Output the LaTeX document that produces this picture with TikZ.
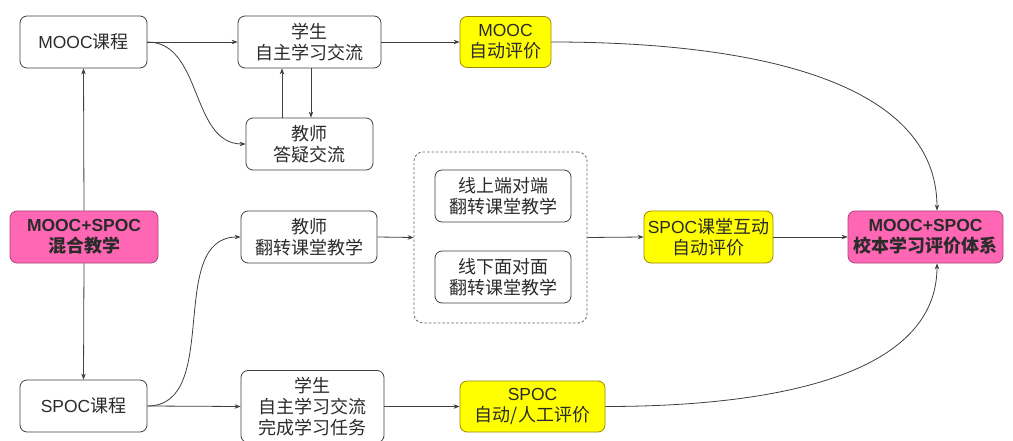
\documentclass[tikz,border=0pt]{standalone}
\usepackage{fontspec}
\setmainfont{Noto Sans CJK SC}
\newfontfamily\en[Scale=0.97]{Liberation Sans}
\usetikzlibrary{arrows.meta}
\definecolor{linec}{HTML}{404040}
\definecolor{txtc}{HTML}{2B2B2B}
\definecolor{yel}{HTML}{FFFF00}
\definecolor{yelb}{HTML}{9C8A00}
\definecolor{pnk}{HTML}{FF66B3}
\definecolor{pnkb}{HTML}{A8447A}
\tikzset{
  box/.style={draw=linec, line width=0.8pt, rounded corners=7pt, fill=white, align=center,
    inner sep=0pt, text=txtc, font=\fontsize{18}{21}\selectfont},
  ybox/.style={box, fill=yel, draw=yelb},
  pbox/.style={box, fill=pnk, draw=pnkb, font=\fontsize{18}{21}\selectfont\bfseries},
  arr/.style={draw=linec, line width=0.8pt, -{Stealth[length=6pt,width=4.5pt]}},
  wh/.style 2 args={minimum width=#1pt, minimum height=#2pt}
}
\begin{document}
\begin{tikzpicture}[x=1pt,y=-1pt]
\useasboundingbox[fill=white] (0,0) rectangle (1013,441);
% container
\node[draw=linec!80, line width=0.8pt, dashed, dash pattern=on 2.5pt off 2pt, rounded corners=9pt, wh={173}{171}] (ct) at (500.5,237.5) {};
% nodes
\node[box, wh={127}{52}] (mc) at (83.5,42) {{\en MOOC}课程};
\node[box, wh={143}{52}] (xs) at (309.5,42) {学生\\自主学习交流};
\node[ybox, wh={91}{51}] (mz) at (505.5,42) {{\en MOOC}\\自动评价};
\node[box, wh={127}{52}] (jd) at (309.5,144) {教师\\答疑交流};
\node[pbox, wh={148}{52}] (hh) at (84,237) {{\en\bfseries MOOC+SPOC}\\混合教学};
\node[box, wh={136}{52}] (jf) at (309,237) {教师\\翻转课堂教学};
\node[box, wh={136}{52}] (xsd) at (503,196) {线上端对端\\翻转课堂教学};
\node[box, wh={136}{52}] (xxm) at (503,277) {线下面对面\\翻转课堂教学};
\node[ybox, wh={129}{52}] (sh) at (708.5,237) {{\en SPOC}课堂互动\\自动评价};
\node[pbox, wh={155}{52}] (pj) at (925.5,237) {{\en\bfseries MOOC+SPOC}\\校本学习评价体系};
\node[box, wh={127}{52}] (sc) at (83.5,406) {{\en SPOC}课程};
\node[box, wh={143}{72}] (xw) at (312.5,406.5) {学生\\自主学习交流\\完成学习任务};
\node[ybox, wh={145}{51}] (sz) at (532.5,406.5) {{\en SPOC}\\自动/人工评价};
% connectors
\draw[arr] (mc.east) -- (xs.west);
\draw[arr] (mc.east) to[out=0,in=180] (jd.west);
\draw[arr] (xs.east) -- (mz.west);
\draw[arr] ([xshift=-27.5pt]jd.north) -- ([xshift=-27.5pt]jd.north |- xs.south);
\draw[arr] ([xshift=1.5pt]xs.south) -- ([xshift=1.5pt]xs.south |- jd.north);
\draw[arr] (mz.east) .. controls +(199,0) and +(0,-131) .. ([xshift=11.5pt]pj.north);
\draw[arr] (hh.north) -- (mc.south);
\draw[arr] (hh.south) -- (sc.north);
\draw[arr] (sc.east) -- (xw.west);
\draw[arr] (sc.east) to[out=0,in=180] (jf.west);
\draw[arr] (jf.east) -- (ct.west);
\draw[arr] (ct.east) -- (sh.west);
\draw[arr] (sh.east) -- (pj.west);
\draw[arr] (xw.east) -- (sz.west);
\draw[arr] (sz.east) .. controls +(172,0) and +(0,111) .. ([xshift=11.5pt]pj.south);
\end{tikzpicture}
\end{document}
